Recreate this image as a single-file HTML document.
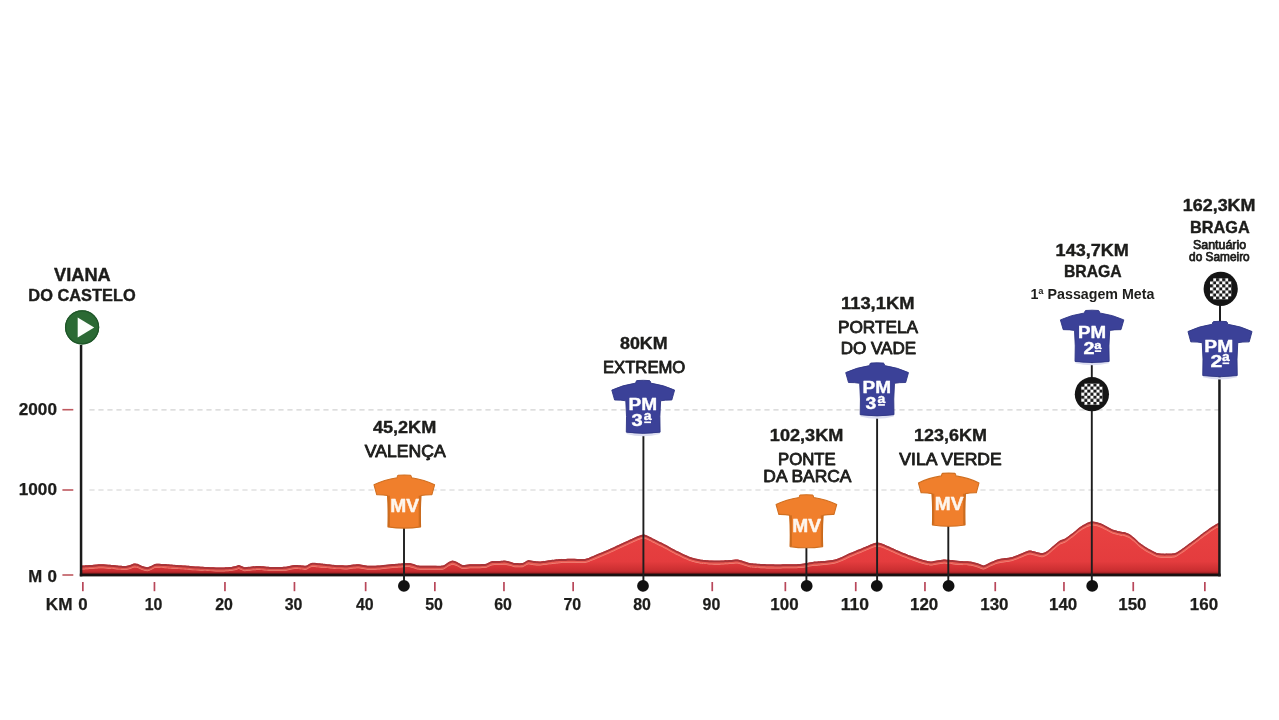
<!DOCTYPE html>
<html lang="pt"><head><meta charset="utf-8"><title>Perfil da etapa</title>
<style>html,body{margin:0;padding:0;background:#fff;}body{width:1279px;height:720px;overflow:hidden;font-family:"Liberation Sans",sans-serif;}svg{display:block;font-family:"Liberation Sans",sans-serif;will-change:transform;}</style>
</head><body>
<svg width="1279" height="720" viewBox="0 0 1279 720">
<defs>
<linearGradient id="gp" x1="0" y1="521" x2="0" y2="575" gradientUnits="userSpaceOnUse">
<stop offset="0" stop-color="#e94342"/><stop offset="0.75" stop-color="#e43c3e"/><stop offset="0.93" stop-color="#c82d30"/><stop offset="1" stop-color="#7a1517"/>
</linearGradient>
<pattern id="chk" x="0" y="0" width="6.12" height="6.12" patternUnits="userSpaceOnUse">
<rect x="0" y="0" width="6.12" height="6.12" fill="#fff"/>
<rect x="0" y="0" width="3.06" height="3.06" fill="#1a1a1a"/><rect x="3.06" y="3.06" width="3.06" height="3.06" fill="#1a1a1a"/>
</pattern>
<g id="jersey">
<path d="M-6.4,0.1 Q0,-0.5 6.4,0.1 Q7.3,0.3 7.5,2.6 Q21,4.6 31.4,9.6 L28.6,19.5 Q22,19.4 17.4,20.3 Q16.2,36 16.9,51.7 Q0,54.1 -16.9,51.7 Q-16.2,36 -17.4,20.3 Q-22,19.4 -28.6,19.5 L-31.4,9.6 Q-21,4.6 -7.5,2.6 Q-7.3,0.3 -6.4,0.1 Z"/>
</g>
</defs>
<rect width="1279" height="720" fill="#fff"/>
<line x1="89.4" y1="409.8" x2="1219" y2="409.8" stroke="#d2d2d2" stroke-width="1.2" stroke-dasharray="5.2 3.8"/>
<line x1="89.4" y1="490.0" x2="1219" y2="490.0" stroke="#d2d2d2" stroke-width="1.2" stroke-dasharray="5.2 3.8"/>
<path d="M82,575 L82.0,565.75 C82.9,565.68 88.0,565.26 90.0,565.10 C92.0,564.94 98.9,564.28 101.0,564.25 C103.1,564.22 108.3,564.67 110.0,564.80 C111.7,564.93 115.3,565.37 117.0,565.50 C118.7,565.63 124.6,566.05 126.0,566.00 C127.4,565.95 129.1,565.27 130.0,565.00 C130.9,564.73 133.1,563.61 134.0,563.50 C134.9,563.39 137.1,563.73 138.0,564.00 C138.9,564.27 141.0,565.65 142.0,566.00 C143.0,566.35 146.3,567.25 147.3,567.25 C148.3,567.25 150.1,566.36 151.0,566.00 C151.9,565.64 154.5,564.09 156.0,563.90 C157.5,563.71 162.9,564.07 165.0,564.20 C167.1,564.33 173.3,564.91 176.0,565.10 C178.7,565.29 187.3,565.82 190.0,566.00 C192.7,566.18 197.8,566.58 201.0,566.75 C204.2,566.92 216.7,567.56 219.8,567.60 C222.8,567.64 228.3,567.27 230.0,567.10 C231.7,566.93 235.0,566.21 236.0,566.00 C237.0,565.79 238.2,564.97 239.1,565.10 C240.0,565.23 242.7,567.15 244.8,567.25 C246.8,567.35 255.7,566.03 258.5,566.00 C261.3,565.97 268.1,566.92 271.0,567.00 C273.9,567.08 283.5,566.95 286.0,566.75 C288.5,566.55 292.6,565.21 294.8,565.10 C296.9,564.99 304.2,565.97 306.0,565.75 C307.8,565.53 309.7,563.20 311.6,563.00 C313.5,562.80 321.0,563.68 323.5,563.90 C326.0,564.12 332.4,564.93 334.8,565.10 C337.1,565.27 343.5,565.59 346.0,565.50 C348.5,565.41 355.5,564.22 357.9,564.25 C360.3,564.28 366.2,565.62 368.5,565.75 C370.8,565.88 376.8,565.70 379.8,565.50 C382.7,565.30 392.8,564.15 396.0,563.90 C399.2,563.65 407.7,563.03 410.0,563.20 C412.3,563.37 415.4,565.22 417.5,565.50 C419.6,565.78 427.3,565.78 430.0,565.80 C432.7,565.82 440.6,566.05 442.5,565.70 C444.4,565.35 446.9,563.03 448.0,562.50 C449.1,561.97 451.5,560.75 452.5,560.70 C453.5,560.65 455.9,561.54 457.0,562.00 C458.1,562.46 461.1,564.75 462.5,565.00 C463.9,565.25 467.6,564.41 470.0,564.30 C472.4,564.19 483.0,564.19 485.0,564.00 C487.0,563.81 488.2,562.80 489.0,562.50 C489.8,562.20 491.3,561.36 492.5,561.20 C493.7,561.04 498.7,561.05 500.0,561.00 C501.3,560.95 503.9,560.61 505.0,560.70 C506.1,560.79 508.9,561.53 510.0,561.80 C511.1,562.07 513.7,563.05 515.0,563.20 C516.3,563.35 521.3,563.40 522.5,563.20 C523.7,563.00 525.3,561.62 526.0,561.30 C526.7,560.98 527.8,560.21 528.7,560.20 C529.6,560.19 532.8,561.06 534.0,561.20 C535.2,561.34 538.3,561.60 540.0,561.50 C541.7,561.40 547.9,560.55 550.0,560.30 C552.1,560.05 557.7,559.36 560.0,559.20 C562.3,559.04 569.3,558.82 572.0,558.80 C574.7,558.78 582.9,559.25 585.0,559.00 C587.1,558.75 590.4,557.12 592.0,556.50 C593.6,555.88 597.9,554.11 600.0,553.20 C602.1,552.29 609.3,549.19 612.0,548.00 C614.7,546.81 622.5,543.12 625.0,542.00 C627.5,540.88 633.3,538.25 635.0,537.50 C636.7,536.75 640.0,535.32 641.0,535.00 C642.0,534.68 643.3,534.39 644.0,534.50 C644.7,534.61 646.8,535.47 648.0,536.00 C649.2,536.53 653.2,538.59 655.0,539.50 C656.8,540.41 662.7,543.27 665.0,544.50 C667.3,545.73 674.3,549.67 677.0,551.00 C679.7,552.33 687.5,556.09 690.0,557.00 C692.5,557.91 697.9,559.13 700.0,559.50 C702.1,559.87 707.9,560.37 710.0,560.50 C712.1,560.63 717.9,560.74 720.0,560.70 C722.1,560.66 728.1,560.23 730.0,560.10 C731.9,559.97 736.1,559.40 737.5,559.50 C738.9,559.60 741.7,560.61 743.0,561.00 C744.3,561.39 748.0,562.86 750.0,563.20 C752.0,563.54 759.3,564.06 762.0,564.20 C764.7,564.34 772.0,564.49 775.0,564.50 C778.0,564.51 787.3,564.35 790.0,564.30 C792.7,564.25 798.3,564.12 800.0,564.00 C801.7,563.88 804.7,563.41 806.0,563.20 C807.3,562.99 810.8,562.21 812.5,562.00 C814.2,561.79 819.6,561.47 822.0,561.20 C824.4,560.93 832.9,559.95 835.0,559.50 C837.1,559.05 840.4,557.67 842.0,557.00 C843.6,556.33 848.3,553.97 850.0,553.20 C851.7,552.43 856.4,550.46 858.0,549.80 C859.6,549.14 863.5,547.62 865.0,547.00 C866.5,546.38 870.7,544.48 872.0,544.00 C873.3,543.52 876.3,542.50 877.5,542.50 C878.7,542.50 881.7,543.52 883.0,544.00 C884.3,544.48 888.2,546.20 890.0,547.00 C891.8,547.80 897.9,550.59 900.0,551.50 C902.1,552.41 907.9,554.70 910.0,555.50 C912.1,556.30 917.9,558.36 920.0,559.00 C922.1,559.64 928.2,561.34 930.0,561.50 C931.8,561.66 935.5,560.71 937.0,560.50 C938.5,560.29 942.5,559.57 943.7,559.50 C944.9,559.43 947.1,559.73 948.0,559.80 C948.9,559.87 951.2,560.07 952.5,560.20 C953.8,560.33 958.1,560.86 960.0,561.00 C961.9,561.14 968.2,561.27 970.0,561.50 C971.8,561.73 975.5,562.77 977.0,563.20 C978.5,563.63 982.3,565.57 983.7,565.50 C985.1,565.43 988.5,563.14 990.0,562.50 C991.5,561.86 995.9,559.96 997.5,559.50 C999.1,559.04 1003.4,558.47 1005.0,558.20 C1006.6,557.93 1010.9,557.45 1012.5,557.00 C1014.1,556.55 1018.6,554.59 1020.0,554.00 C1021.4,553.41 1024.9,551.87 1026.0,551.50 C1027.1,551.13 1029.0,550.50 1030.0,550.50 C1031.0,550.50 1033.7,551.21 1035.0,551.50 C1036.3,551.79 1041.1,553.31 1042.5,553.20 C1043.9,553.09 1046.7,551.43 1048.0,550.50 C1049.3,549.57 1053.7,545.57 1055.0,544.50 C1056.3,543.43 1059.0,541.09 1060.0,540.50 C1061.0,539.91 1063.2,539.37 1064.0,539.00 C1064.8,538.63 1066.4,537.75 1067.5,537.00 C1068.6,536.25 1072.7,533.07 1074.0,532.00 C1075.3,530.93 1078.7,527.91 1080.0,527.00 C1081.3,526.09 1084.8,524.07 1086.0,523.50 C1087.2,522.93 1090.0,521.87 1091.0,521.70 C1092.0,521.53 1094.0,521.74 1095.0,521.90 C1096.0,522.06 1098.8,522.76 1100.0,523.20 C1101.2,523.64 1104.7,525.33 1106.0,526.00 C1107.3,526.67 1111.0,528.91 1112.5,529.50 C1114.0,530.09 1118.7,531.20 1120.0,531.50 C1121.3,531.80 1123.9,531.98 1125.0,532.30 C1126.1,532.62 1128.9,533.84 1130.0,534.50 C1131.1,535.16 1133.9,537.57 1135.0,538.50 C1136.1,539.43 1138.6,542.13 1140.0,543.20 C1141.4,544.27 1146.1,547.43 1148.0,548.50 C1149.9,549.57 1155.7,552.63 1157.5,553.20 C1159.3,553.77 1163.1,553.80 1165.0,553.80 C1166.9,553.80 1173.2,553.71 1175.0,553.20 C1176.8,552.69 1180.4,550.07 1182.0,549.00 C1183.6,547.93 1188.1,544.64 1190.0,543.20 C1191.9,541.76 1197.9,537.10 1200.0,535.50 C1202.1,533.90 1208.3,529.39 1210.0,528.20 C1211.7,527.01 1215.0,524.89 1216.0,524.30 C1217.0,523.71 1219.1,522.87 1219.5,522.70 L1219.5,575 Z" fill="url(#gp)"/>
<path d="M82.0,565.65 C82.9,565.58 88.0,565.16 90.0,565.00 C92.0,564.84 98.9,564.18 101.0,564.15 C103.1,564.12 108.3,564.57 110.0,564.70 C111.7,564.83 115.3,565.27 117.0,565.40 C118.7,565.53 124.6,565.95 126.0,565.90 C127.4,565.85 129.1,565.17 130.0,564.90 C130.9,564.63 133.1,563.51 134.0,563.40 C134.9,563.29 137.1,563.63 138.0,563.90 C138.9,564.17 141.0,565.55 142.0,565.90 C143.0,566.25 146.3,567.15 147.3,567.15 C148.3,567.15 150.1,566.26 151.0,565.90 C151.9,565.54 154.5,563.99 156.0,563.80 C157.5,563.61 162.9,563.97 165.0,564.10 C167.1,564.23 173.3,564.81 176.0,565.00 C178.7,565.19 187.3,565.72 190.0,565.90 C192.7,566.08 197.8,566.48 201.0,566.65 C204.2,566.82 216.7,567.46 219.8,567.50 C222.8,567.54 228.3,567.17 230.0,567.00 C231.7,566.83 235.0,566.11 236.0,565.90 C237.0,565.69 238.2,564.87 239.1,565.00 C240.0,565.13 242.7,567.05 244.8,567.15 C246.8,567.25 255.7,565.93 258.5,565.90 C261.3,565.87 268.1,566.82 271.0,566.90 C273.9,566.98 283.5,566.85 286.0,566.65 C288.5,566.45 292.6,565.11 294.8,565.00 C296.9,564.89 304.2,565.87 306.0,565.65 C307.8,565.43 309.7,563.10 311.6,562.90 C313.5,562.70 321.0,563.58 323.5,563.80 C326.0,564.02 332.4,564.83 334.8,565.00 C337.1,565.17 343.5,565.49 346.0,565.40 C348.5,565.31 355.5,564.12 357.9,564.15 C360.3,564.18 366.2,565.52 368.5,565.65 C370.8,565.78 376.8,565.60 379.8,565.40 C382.7,565.20 392.8,564.05 396.0,563.80 C399.2,563.55 407.7,562.93 410.0,563.10 C412.3,563.27 415.4,565.12 417.5,565.40 C419.6,565.68 427.3,565.68 430.0,565.70 C432.7,565.72 440.6,565.95 442.5,565.60 C444.4,565.25 446.9,562.93 448.0,562.40 C449.1,561.87 451.5,560.65 452.5,560.60 C453.5,560.55 455.9,561.44 457.0,561.90 C458.1,562.36 461.1,564.65 462.5,564.90 C463.9,565.15 467.6,564.31 470.0,564.20 C472.4,564.09 483.0,564.09 485.0,563.90 C487.0,563.71 488.2,562.70 489.0,562.40 C489.8,562.10 491.3,561.26 492.5,561.10 C493.7,560.94 498.7,560.95 500.0,560.90 C501.3,560.85 503.9,560.51 505.0,560.60 C506.1,560.69 508.9,561.43 510.0,561.70 C511.1,561.97 513.7,562.95 515.0,563.10 C516.3,563.25 521.3,563.30 522.5,563.10 C523.7,562.90 525.3,561.52 526.0,561.20 C526.7,560.88 527.8,560.11 528.7,560.10 C529.6,560.09 532.8,560.96 534.0,561.10 C535.2,561.24 538.3,561.50 540.0,561.40 C541.7,561.30 547.9,560.45 550.0,560.20 C552.1,559.95 557.7,559.26 560.0,559.10 C562.3,558.94 569.3,558.72 572.0,558.70 C574.7,558.68 582.9,559.15 585.0,558.90 C587.1,558.65 590.4,557.02 592.0,556.40 C593.6,555.78 597.9,554.01 600.0,553.10 C602.1,552.19 609.3,549.09 612.0,547.90 C614.7,546.71 622.5,543.02 625.0,541.90 C627.5,540.78 633.3,538.15 635.0,537.40 C636.7,536.65 640.0,535.22 641.0,534.90 C642.0,534.58 643.3,534.29 644.0,534.40 C644.7,534.51 646.8,535.37 648.0,535.90 C649.2,536.43 653.2,538.49 655.0,539.40 C656.8,540.31 662.7,543.17 665.0,544.40 C667.3,545.63 674.3,549.57 677.0,550.90 C679.7,552.23 687.5,555.99 690.0,556.90 C692.5,557.81 697.9,559.03 700.0,559.40 C702.1,559.77 707.9,560.27 710.0,560.40 C712.1,560.53 717.9,560.64 720.0,560.60 C722.1,560.56 728.1,560.13 730.0,560.00 C731.9,559.87 736.1,559.30 737.5,559.40 C738.9,559.50 741.7,560.51 743.0,560.90 C744.3,561.29 748.0,562.76 750.0,563.10 C752.0,563.44 759.3,563.96 762.0,564.10 C764.7,564.24 772.0,564.39 775.0,564.40 C778.0,564.41 787.3,564.25 790.0,564.20 C792.7,564.15 798.3,564.02 800.0,563.90 C801.7,563.78 804.7,563.31 806.0,563.10 C807.3,562.89 810.8,562.11 812.5,561.90 C814.2,561.69 819.6,561.37 822.0,561.10 C824.4,560.83 832.9,559.85 835.0,559.40 C837.1,558.95 840.4,557.57 842.0,556.90 C843.6,556.23 848.3,553.87 850.0,553.10 C851.7,552.33 856.4,550.36 858.0,549.70 C859.6,549.04 863.5,547.52 865.0,546.90 C866.5,546.28 870.7,544.38 872.0,543.90 C873.3,543.42 876.3,542.40 877.5,542.40 C878.7,542.40 881.7,543.42 883.0,543.90 C884.3,544.38 888.2,546.10 890.0,546.90 C891.8,547.70 897.9,550.49 900.0,551.40 C902.1,552.31 907.9,554.60 910.0,555.40 C912.1,556.20 917.9,558.26 920.0,558.90 C922.1,559.54 928.2,561.24 930.0,561.40 C931.8,561.56 935.5,560.61 937.0,560.40 C938.5,560.19 942.5,559.47 943.7,559.40 C944.9,559.33 947.1,559.63 948.0,559.70 C948.9,559.77 951.2,559.97 952.5,560.10 C953.8,560.23 958.1,560.76 960.0,560.90 C961.9,561.04 968.2,561.17 970.0,561.40 C971.8,561.63 975.5,562.67 977.0,563.10 C978.5,563.53 982.3,565.47 983.7,565.40 C985.1,565.33 988.5,563.04 990.0,562.40 C991.5,561.76 995.9,559.86 997.5,559.40 C999.1,558.94 1003.4,558.37 1005.0,558.10 C1006.6,557.83 1010.9,557.35 1012.5,556.90 C1014.1,556.45 1018.6,554.49 1020.0,553.90 C1021.4,553.31 1024.9,551.77 1026.0,551.40 C1027.1,551.03 1029.0,550.40 1030.0,550.40 C1031.0,550.40 1033.7,551.11 1035.0,551.40 C1036.3,551.69 1041.1,553.21 1042.5,553.10 C1043.9,552.99 1046.7,551.33 1048.0,550.40 C1049.3,549.47 1053.7,545.47 1055.0,544.40 C1056.3,543.33 1059.0,540.99 1060.0,540.40 C1061.0,539.81 1063.2,539.27 1064.0,538.90 C1064.8,538.53 1066.4,537.65 1067.5,536.90 C1068.6,536.15 1072.7,532.97 1074.0,531.90 C1075.3,530.83 1078.7,527.81 1080.0,526.90 C1081.3,525.99 1084.8,523.97 1086.0,523.40 C1087.2,522.83 1090.0,521.77 1091.0,521.60 C1092.0,521.43 1094.0,521.64 1095.0,521.80 C1096.0,521.96 1098.8,522.66 1100.0,523.10 C1101.2,523.54 1104.7,525.23 1106.0,525.90 C1107.3,526.57 1111.0,528.81 1112.5,529.40 C1114.0,529.99 1118.7,531.10 1120.0,531.40 C1121.3,531.70 1123.9,531.88 1125.0,532.20 C1126.1,532.52 1128.9,533.74 1130.0,534.40 C1131.1,535.06 1133.9,537.47 1135.0,538.40 C1136.1,539.33 1138.6,542.03 1140.0,543.10 C1141.4,544.17 1146.1,547.33 1148.0,548.40 C1149.9,549.47 1155.7,552.53 1157.5,553.10 C1159.3,553.67 1163.1,553.70 1165.0,553.70 C1166.9,553.70 1173.2,553.61 1175.0,553.10 C1176.8,552.59 1180.4,549.97 1182.0,548.90 C1183.6,547.83 1188.1,544.54 1190.0,543.10 C1191.9,541.66 1197.9,537.00 1200.0,535.40 C1202.1,533.80 1208.3,529.29 1210.0,528.10 C1211.7,526.91 1215.0,524.79 1216.0,524.20 C1217.0,523.61 1219.1,522.77 1219.5,522.60 L1219.5,524.60 C1219.1,524.77 1217.0,525.61 1216.0,526.20 C1215.0,526.79 1211.7,528.91 1210.0,530.10 C1208.3,531.29 1202.1,535.80 1200.0,537.40 C1197.9,539.00 1191.9,543.66 1190.0,545.10 C1188.1,546.54 1183.6,549.83 1182.0,550.90 C1180.4,551.97 1176.8,554.59 1175.0,555.10 C1173.2,555.61 1166.9,555.70 1165.0,555.70 C1163.1,555.70 1159.3,555.67 1157.5,555.10 C1155.7,554.53 1149.9,551.47 1148.0,550.40 C1146.1,549.33 1141.4,546.17 1140.0,545.10 C1138.6,544.03 1136.1,541.33 1135.0,540.40 C1133.9,539.47 1131.1,537.06 1130.0,536.40 C1128.9,535.74 1126.1,534.52 1125.0,534.20 C1123.9,533.88 1121.3,533.70 1120.0,533.40 C1118.7,533.10 1114.0,531.99 1112.5,531.40 C1111.0,530.81 1107.3,528.57 1106.0,527.90 C1104.7,527.23 1101.2,525.54 1100.0,525.10 C1098.8,524.66 1096.0,523.96 1095.0,523.80 C1094.0,523.64 1092.0,523.43 1091.0,523.60 C1090.0,523.77 1087.2,524.83 1086.0,525.40 C1084.8,525.97 1081.3,527.99 1080.0,528.90 C1078.7,529.81 1075.3,532.83 1074.0,533.90 C1072.7,534.97 1068.6,538.15 1067.5,538.90 C1066.4,539.65 1064.8,540.53 1064.0,540.90 C1063.2,541.27 1061.0,541.81 1060.0,542.40 C1059.0,542.99 1056.3,545.33 1055.0,546.40 C1053.7,547.47 1049.3,551.47 1048.0,552.40 C1046.7,553.33 1043.9,554.99 1042.5,555.10 C1041.1,555.21 1036.3,553.69 1035.0,553.40 C1033.7,553.11 1031.0,552.40 1030.0,552.40 C1029.0,552.40 1027.1,553.03 1026.0,553.40 C1024.9,553.77 1021.4,555.31 1020.0,555.90 C1018.6,556.49 1014.1,558.45 1012.5,558.90 C1010.9,559.35 1006.6,559.83 1005.0,560.10 C1003.4,560.37 999.1,560.94 997.5,561.40 C995.9,561.86 991.5,563.76 990.0,564.40 C988.5,565.04 985.1,567.33 983.7,567.40 C982.3,567.47 978.5,565.53 977.0,565.10 C975.5,564.67 971.8,563.63 970.0,563.40 C968.2,563.17 961.9,563.04 960.0,562.90 C958.1,562.76 953.8,562.23 952.5,562.10 C951.2,561.97 948.9,561.77 948.0,561.70 C947.1,561.63 944.9,561.33 943.7,561.40 C942.5,561.47 938.5,562.19 937.0,562.40 C935.5,562.61 931.8,563.56 930.0,563.40 C928.2,563.24 922.1,561.54 920.0,560.90 C917.9,560.26 912.1,558.20 910.0,557.40 C907.9,556.60 902.1,554.31 900.0,553.40 C897.9,552.49 891.8,549.70 890.0,548.90 C888.2,548.10 884.3,546.38 883.0,545.90 C881.7,545.42 878.7,544.40 877.5,544.40 C876.3,544.40 873.3,545.42 872.0,545.90 C870.7,546.38 866.5,548.28 865.0,548.90 C863.5,549.52 859.6,551.04 858.0,551.70 C856.4,552.36 851.7,554.33 850.0,555.10 C848.3,555.87 843.6,558.23 842.0,558.90 C840.4,559.57 837.1,560.95 835.0,561.40 C832.9,561.85 824.4,562.83 822.0,563.10 C819.6,563.37 814.2,563.69 812.5,563.90 C810.8,564.11 807.3,564.89 806.0,565.10 C804.7,565.31 801.7,565.78 800.0,565.90 C798.3,566.02 792.7,566.15 790.0,566.20 C787.3,566.25 778.0,566.41 775.0,566.40 C772.0,566.39 764.7,566.24 762.0,566.10 C759.3,565.96 752.0,565.44 750.0,565.10 C748.0,564.76 744.3,563.29 743.0,562.90 C741.7,562.51 738.9,561.50 737.5,561.40 C736.1,561.30 731.9,561.87 730.0,562.00 C728.1,562.13 722.1,562.56 720.0,562.60 C717.9,562.64 712.1,562.53 710.0,562.40 C707.9,562.27 702.1,561.77 700.0,561.40 C697.9,561.03 692.5,559.81 690.0,558.90 C687.5,557.99 679.7,554.23 677.0,552.90 C674.3,551.57 667.3,547.63 665.0,546.40 C662.7,545.17 656.8,542.31 655.0,541.40 C653.2,540.49 649.2,538.43 648.0,537.90 C646.8,537.37 644.7,536.51 644.0,536.40 C643.3,536.29 642.0,536.58 641.0,536.90 C640.0,537.22 636.7,538.65 635.0,539.40 C633.3,540.15 627.5,542.78 625.0,543.90 C622.5,545.02 614.7,548.71 612.0,549.90 C609.3,551.09 602.1,554.19 600.0,555.10 C597.9,556.01 593.6,557.78 592.0,558.40 C590.4,559.02 587.1,560.65 585.0,560.90 C582.9,561.15 574.7,560.68 572.0,560.70 C569.3,560.72 562.3,560.94 560.0,561.10 C557.7,561.26 552.1,561.95 550.0,562.20 C547.9,562.45 541.7,563.30 540.0,563.40 C538.3,563.50 535.2,563.24 534.0,563.10 C532.8,562.96 529.6,562.09 528.7,562.10 C527.8,562.11 526.7,562.88 526.0,563.20 C525.3,563.52 523.7,564.90 522.5,565.10 C521.3,565.30 516.3,565.25 515.0,565.10 C513.7,564.95 511.1,563.97 510.0,563.70 C508.9,563.43 506.1,562.69 505.0,562.60 C503.9,562.51 501.3,562.85 500.0,562.90 C498.7,562.95 493.7,562.94 492.5,563.10 C491.3,563.26 489.8,564.10 489.0,564.40 C488.2,564.70 487.0,565.71 485.0,565.90 C483.0,566.09 472.4,566.09 470.0,566.20 C467.6,566.31 463.9,567.15 462.5,566.90 C461.1,566.65 458.1,564.36 457.0,563.90 C455.9,563.44 453.5,562.55 452.5,562.60 C451.5,562.65 449.1,563.87 448.0,564.40 C446.9,564.93 444.4,567.25 442.5,567.60 C440.6,567.95 432.7,567.72 430.0,567.70 C427.3,567.68 419.6,567.68 417.5,567.40 C415.4,567.12 412.3,565.27 410.0,565.10 C407.7,564.93 399.2,565.55 396.0,565.80 C392.8,566.05 382.7,567.20 379.8,567.40 C376.8,567.60 370.8,567.78 368.5,567.65 C366.2,567.52 360.3,566.18 357.9,566.15 C355.5,566.12 348.5,567.31 346.0,567.40 C343.5,567.49 337.1,567.17 334.8,567.00 C332.4,566.83 326.0,566.02 323.5,565.80 C321.0,565.58 313.5,564.70 311.6,564.90 C309.7,565.10 307.8,567.43 306.0,567.65 C304.2,567.87 296.9,566.89 294.8,567.00 C292.6,567.11 288.5,568.45 286.0,568.65 C283.5,568.85 273.9,568.98 271.0,568.90 C268.1,568.82 261.3,567.87 258.5,567.90 C255.7,567.93 246.8,569.25 244.8,569.15 C242.7,569.05 240.0,567.13 239.1,567.00 C238.2,566.87 237.0,567.69 236.0,567.90 C235.0,568.11 231.7,568.83 230.0,569.00 C228.3,569.17 222.8,569.54 219.8,569.50 C216.7,569.46 204.2,568.82 201.0,568.65 C197.8,568.48 192.7,568.08 190.0,567.90 C187.3,567.72 178.7,567.19 176.0,567.00 C173.3,566.81 167.1,566.23 165.0,566.10 C162.9,565.97 157.5,565.61 156.0,565.80 C154.5,565.99 151.9,567.54 151.0,567.90 C150.1,568.26 148.3,569.15 147.3,569.15 C146.3,569.15 143.0,568.25 142.0,567.90 C141.0,567.55 138.9,566.17 138.0,565.90 C137.1,565.63 134.9,565.29 134.0,565.40 C133.1,565.51 130.9,566.63 130.0,566.90 C129.1,567.17 127.4,567.85 126.0,567.90 C124.6,567.95 118.7,567.53 117.0,567.40 C115.3,567.27 111.7,566.83 110.0,566.70 C108.3,566.57 103.1,566.12 101.0,566.15 C98.9,566.18 92.0,566.84 90.0,567.00 C88.0,567.16 82.9,567.58 82.0,567.65 Z" fill="#a83438" opacity="1.0"/>
<path d="M82.0,567.65 C82.9,567.58 88.0,567.16 90.0,567.00 C92.0,566.84 98.9,566.18 101.0,566.15 C103.1,566.12 108.3,566.57 110.0,566.70 C111.7,566.83 115.3,567.27 117.0,567.40 C118.7,567.53 124.6,567.95 126.0,567.90 C127.4,567.85 129.1,567.17 130.0,566.90 C130.9,566.63 133.1,565.51 134.0,565.40 C134.9,565.29 137.1,565.63 138.0,565.90 C138.9,566.17 141.0,567.55 142.0,567.90 C143.0,568.25 146.3,569.15 147.3,569.15 C148.3,569.15 150.1,568.26 151.0,567.90 C151.9,567.54 154.5,565.99 156.0,565.80 C157.5,565.61 162.9,565.97 165.0,566.10 C167.1,566.23 173.3,566.81 176.0,567.00 C178.7,567.19 187.3,567.72 190.0,567.90 C192.7,568.08 197.8,568.48 201.0,568.65 C204.2,568.82 216.7,569.46 219.8,569.50 C222.8,569.54 228.3,569.17 230.0,569.00 C231.7,568.83 235.0,568.11 236.0,567.90 C237.0,567.69 238.2,566.87 239.1,567.00 C240.0,567.13 242.7,569.05 244.8,569.15 C246.8,569.25 255.7,567.93 258.5,567.90 C261.3,567.87 268.1,568.82 271.0,568.90 C273.9,568.98 283.5,568.85 286.0,568.65 C288.5,568.45 292.6,567.11 294.8,567.00 C296.9,566.89 304.2,567.87 306.0,567.65 C307.8,567.43 309.7,565.10 311.6,564.90 C313.5,564.70 321.0,565.58 323.5,565.80 C326.0,566.02 332.4,566.83 334.8,567.00 C337.1,567.17 343.5,567.49 346.0,567.40 C348.5,567.31 355.5,566.12 357.9,566.15 C360.3,566.18 366.2,567.52 368.5,567.65 C370.8,567.78 376.8,567.60 379.8,567.40 C382.7,567.20 392.8,566.05 396.0,565.80 C399.2,565.55 407.7,564.93 410.0,565.10 C412.3,565.27 415.4,567.12 417.5,567.40 C419.6,567.68 427.3,567.68 430.0,567.70 C432.7,567.72 440.6,567.95 442.5,567.60 C444.4,567.25 446.9,564.93 448.0,564.40 C449.1,563.87 451.5,562.65 452.5,562.60 C453.5,562.55 455.9,563.44 457.0,563.90 C458.1,564.36 461.1,566.65 462.5,566.90 C463.9,567.15 467.6,566.31 470.0,566.20 C472.4,566.09 483.0,566.09 485.0,565.90 C487.0,565.71 488.2,564.70 489.0,564.40 C489.8,564.10 491.3,563.26 492.5,563.10 C493.7,562.94 498.7,562.95 500.0,562.90 C501.3,562.85 503.9,562.51 505.0,562.60 C506.1,562.69 508.9,563.43 510.0,563.70 C511.1,563.97 513.7,564.95 515.0,565.10 C516.3,565.25 521.3,565.30 522.5,565.10 C523.7,564.90 525.3,563.52 526.0,563.20 C526.7,562.88 527.8,562.11 528.7,562.10 C529.6,562.09 532.8,562.96 534.0,563.10 C535.2,563.24 538.3,563.50 540.0,563.40 C541.7,563.30 547.9,562.45 550.0,562.20 C552.1,561.95 557.7,561.26 560.0,561.10 C562.3,560.94 569.3,560.72 572.0,560.70 C574.7,560.68 582.9,561.15 585.0,560.90 C587.1,560.65 590.4,559.02 592.0,558.40 C593.6,557.78 597.9,556.01 600.0,555.10 C602.1,554.19 609.3,551.09 612.0,549.90 C614.7,548.71 622.5,545.02 625.0,543.90 C627.5,542.78 633.3,540.15 635.0,539.40 C636.7,538.65 640.0,537.22 641.0,536.90 C642.0,536.58 643.3,536.29 644.0,536.40 C644.7,536.51 646.8,537.37 648.0,537.90 C649.2,538.43 653.2,540.49 655.0,541.40 C656.8,542.31 662.7,545.17 665.0,546.40 C667.3,547.63 674.3,551.57 677.0,552.90 C679.7,554.23 687.5,557.99 690.0,558.90 C692.5,559.81 697.9,561.03 700.0,561.40 C702.1,561.77 707.9,562.27 710.0,562.40 C712.1,562.53 717.9,562.64 720.0,562.60 C722.1,562.56 728.1,562.13 730.0,562.00 C731.9,561.87 736.1,561.30 737.5,561.40 C738.9,561.50 741.7,562.51 743.0,562.90 C744.3,563.29 748.0,564.76 750.0,565.10 C752.0,565.44 759.3,565.96 762.0,566.10 C764.7,566.24 772.0,566.39 775.0,566.40 C778.0,566.41 787.3,566.25 790.0,566.20 C792.7,566.15 798.3,566.02 800.0,565.90 C801.7,565.78 804.7,565.31 806.0,565.10 C807.3,564.89 810.8,564.11 812.5,563.90 C814.2,563.69 819.6,563.37 822.0,563.10 C824.4,562.83 832.9,561.85 835.0,561.40 C837.1,560.95 840.4,559.57 842.0,558.90 C843.6,558.23 848.3,555.87 850.0,555.10 C851.7,554.33 856.4,552.36 858.0,551.70 C859.6,551.04 863.5,549.52 865.0,548.90 C866.5,548.28 870.7,546.38 872.0,545.90 C873.3,545.42 876.3,544.40 877.5,544.40 C878.7,544.40 881.7,545.42 883.0,545.90 C884.3,546.38 888.2,548.10 890.0,548.90 C891.8,549.70 897.9,552.49 900.0,553.40 C902.1,554.31 907.9,556.60 910.0,557.40 C912.1,558.20 917.9,560.26 920.0,560.90 C922.1,561.54 928.2,563.24 930.0,563.40 C931.8,563.56 935.5,562.61 937.0,562.40 C938.5,562.19 942.5,561.47 943.7,561.40 C944.9,561.33 947.1,561.63 948.0,561.70 C948.9,561.77 951.2,561.97 952.5,562.10 C953.8,562.23 958.1,562.76 960.0,562.90 C961.9,563.04 968.2,563.17 970.0,563.40 C971.8,563.63 975.5,564.67 977.0,565.10 C978.5,565.53 982.3,567.47 983.7,567.40 C985.1,567.33 988.5,565.04 990.0,564.40 C991.5,563.76 995.9,561.86 997.5,561.40 C999.1,560.94 1003.4,560.37 1005.0,560.10 C1006.6,559.83 1010.9,559.35 1012.5,558.90 C1014.1,558.45 1018.6,556.49 1020.0,555.90 C1021.4,555.31 1024.9,553.77 1026.0,553.40 C1027.1,553.03 1029.0,552.40 1030.0,552.40 C1031.0,552.40 1033.7,553.11 1035.0,553.40 C1036.3,553.69 1041.1,555.21 1042.5,555.10 C1043.9,554.99 1046.7,553.33 1048.0,552.40 C1049.3,551.47 1053.7,547.47 1055.0,546.40 C1056.3,545.33 1059.0,542.99 1060.0,542.40 C1061.0,541.81 1063.2,541.27 1064.0,540.90 C1064.8,540.53 1066.4,539.65 1067.5,538.90 C1068.6,538.15 1072.7,534.97 1074.0,533.90 C1075.3,532.83 1078.7,529.81 1080.0,528.90 C1081.3,527.99 1084.8,525.97 1086.0,525.40 C1087.2,524.83 1090.0,523.77 1091.0,523.60 C1092.0,523.43 1094.0,523.64 1095.0,523.80 C1096.0,523.96 1098.8,524.66 1100.0,525.10 C1101.2,525.54 1104.7,527.23 1106.0,527.90 C1107.3,528.57 1111.0,530.81 1112.5,531.40 C1114.0,531.99 1118.7,533.10 1120.0,533.40 C1121.3,533.70 1123.9,533.88 1125.0,534.20 C1126.1,534.52 1128.9,535.74 1130.0,536.40 C1131.1,537.06 1133.9,539.47 1135.0,540.40 C1136.1,541.33 1138.6,544.03 1140.0,545.10 C1141.4,546.17 1146.1,549.33 1148.0,550.40 C1149.9,551.47 1155.7,554.53 1157.5,555.10 C1159.3,555.67 1163.1,555.70 1165.0,555.70 C1166.9,555.70 1173.2,555.61 1175.0,555.10 C1176.8,554.59 1180.4,551.97 1182.0,550.90 C1183.6,549.83 1188.1,546.54 1190.0,545.10 C1191.9,543.66 1197.9,539.00 1200.0,537.40 C1202.1,535.80 1208.3,531.29 1210.0,530.10 C1211.7,528.91 1215.0,526.79 1216.0,526.20 C1217.0,525.61 1219.1,524.77 1219.5,524.60 L1219.5,525.90 C1219.1,526.07 1217.0,526.91 1216.0,527.50 C1215.0,528.09 1211.7,530.21 1210.0,531.40 C1208.3,532.59 1202.1,537.10 1200.0,538.70 C1197.9,540.30 1191.9,544.96 1190.0,546.40 C1188.1,547.84 1183.6,551.13 1182.0,552.20 C1180.4,553.27 1176.8,555.89 1175.0,556.40 C1173.2,556.91 1166.9,557.00 1165.0,557.00 C1163.1,557.00 1159.3,556.97 1157.5,556.40 C1155.7,555.83 1149.9,552.77 1148.0,551.70 C1146.1,550.63 1141.4,547.47 1140.0,546.40 C1138.6,545.33 1136.1,542.63 1135.0,541.70 C1133.9,540.77 1131.1,538.36 1130.0,537.70 C1128.9,537.04 1126.1,535.82 1125.0,535.50 C1123.9,535.18 1121.3,535.00 1120.0,534.70 C1118.7,534.40 1114.0,533.29 1112.5,532.70 C1111.0,532.11 1107.3,529.87 1106.0,529.20 C1104.7,528.53 1101.2,526.84 1100.0,526.40 C1098.8,525.96 1096.0,525.26 1095.0,525.10 C1094.0,524.94 1092.0,524.73 1091.0,524.90 C1090.0,525.07 1087.2,526.13 1086.0,526.70 C1084.8,527.27 1081.3,529.29 1080.0,530.20 C1078.7,531.11 1075.3,534.13 1074.0,535.20 C1072.7,536.27 1068.6,539.45 1067.5,540.20 C1066.4,540.95 1064.8,541.83 1064.0,542.20 C1063.2,542.57 1061.0,543.11 1060.0,543.70 C1059.0,544.29 1056.3,546.63 1055.0,547.70 C1053.7,548.77 1049.3,552.77 1048.0,553.70 C1046.7,554.63 1043.9,556.29 1042.5,556.40 C1041.1,556.51 1036.3,554.99 1035.0,554.70 C1033.7,554.41 1031.0,553.70 1030.0,553.70 C1029.0,553.70 1027.1,554.33 1026.0,554.70 C1024.9,555.07 1021.4,556.61 1020.0,557.20 C1018.6,557.79 1014.1,559.75 1012.5,560.20 C1010.9,560.65 1006.6,561.13 1005.0,561.40 C1003.4,561.67 999.1,562.24 997.5,562.70 C995.9,563.16 991.5,565.06 990.0,565.70 C988.5,566.34 985.1,568.63 983.7,568.70 C982.3,568.77 978.5,566.83 977.0,566.40 C975.5,565.97 971.8,564.93 970.0,564.70 C968.2,564.47 961.9,564.34 960.0,564.20 C958.1,564.06 953.8,563.53 952.5,563.40 C951.2,563.27 948.9,563.07 948.0,563.00 C947.1,562.93 944.9,562.63 943.7,562.70 C942.5,562.77 938.5,563.49 937.0,563.70 C935.5,563.91 931.8,564.86 930.0,564.70 C928.2,564.54 922.1,562.84 920.0,562.20 C917.9,561.56 912.1,559.50 910.0,558.70 C907.9,557.90 902.1,555.61 900.0,554.70 C897.9,553.79 891.8,551.00 890.0,550.20 C888.2,549.40 884.3,547.68 883.0,547.20 C881.7,546.72 878.7,545.70 877.5,545.70 C876.3,545.70 873.3,546.72 872.0,547.20 C870.7,547.68 866.5,549.58 865.0,550.20 C863.5,550.82 859.6,552.34 858.0,553.00 C856.4,553.66 851.7,555.63 850.0,556.40 C848.3,557.17 843.6,559.53 842.0,560.20 C840.4,560.87 837.1,562.25 835.0,562.70 C832.9,563.15 824.4,564.13 822.0,564.40 C819.6,564.67 814.2,564.99 812.5,565.20 C810.8,565.41 807.3,566.19 806.0,566.40 C804.7,566.61 801.7,567.08 800.0,567.20 C798.3,567.32 792.7,567.45 790.0,567.50 C787.3,567.55 778.0,567.71 775.0,567.70 C772.0,567.69 764.7,567.54 762.0,567.40 C759.3,567.26 752.0,566.74 750.0,566.40 C748.0,566.06 744.3,564.59 743.0,564.20 C741.7,563.81 738.9,562.80 737.5,562.70 C736.1,562.60 731.9,563.17 730.0,563.30 C728.1,563.43 722.1,563.86 720.0,563.90 C717.9,563.94 712.1,563.83 710.0,563.70 C707.9,563.57 702.1,563.07 700.0,562.70 C697.9,562.33 692.5,561.11 690.0,560.20 C687.5,559.29 679.7,555.53 677.0,554.20 C674.3,552.87 667.3,548.93 665.0,547.70 C662.7,546.47 656.8,543.61 655.0,542.70 C653.2,541.79 649.2,539.73 648.0,539.20 C646.8,538.67 644.7,537.81 644.0,537.70 C643.3,537.59 642.0,537.88 641.0,538.20 C640.0,538.52 636.7,539.95 635.0,540.70 C633.3,541.45 627.5,544.08 625.0,545.20 C622.5,546.32 614.7,550.01 612.0,551.20 C609.3,552.39 602.1,555.49 600.0,556.40 C597.9,557.31 593.6,559.08 592.0,559.70 C590.4,560.32 587.1,561.95 585.0,562.20 C582.9,562.45 574.7,561.98 572.0,562.00 C569.3,562.02 562.3,562.24 560.0,562.40 C557.7,562.56 552.1,563.25 550.0,563.50 C547.9,563.75 541.7,564.60 540.0,564.70 C538.3,564.80 535.2,564.54 534.0,564.40 C532.8,564.26 529.6,563.39 528.7,563.40 C527.8,563.41 526.7,564.18 526.0,564.50 C525.3,564.82 523.7,566.20 522.5,566.40 C521.3,566.60 516.3,566.55 515.0,566.40 C513.7,566.25 511.1,565.27 510.0,565.00 C508.9,564.73 506.1,563.99 505.0,563.90 C503.9,563.81 501.3,564.15 500.0,564.20 C498.7,564.25 493.7,564.24 492.5,564.40 C491.3,564.56 489.8,565.40 489.0,565.70 C488.2,566.00 487.0,567.01 485.0,567.20 C483.0,567.39 472.4,567.39 470.0,567.50 C467.6,567.61 463.9,568.45 462.5,568.20 C461.1,567.95 458.1,565.66 457.0,565.20 C455.9,564.74 453.5,563.85 452.5,563.90 C451.5,563.95 449.1,565.17 448.0,565.70 C446.9,566.23 444.4,568.55 442.5,568.90 C440.6,569.25 432.7,569.02 430.0,569.00 C427.3,568.98 419.6,568.98 417.5,568.70 C415.4,568.42 412.3,566.57 410.0,566.40 C407.7,566.23 399.2,566.85 396.0,567.10 C392.8,567.35 382.7,568.50 379.8,568.70 C376.8,568.90 370.8,569.08 368.5,568.95 C366.2,568.82 360.3,567.48 357.9,567.45 C355.5,567.42 348.5,568.61 346.0,568.70 C343.5,568.79 337.1,568.47 334.8,568.30 C332.4,568.13 326.0,567.32 323.5,567.10 C321.0,566.88 313.5,566.00 311.6,566.20 C309.7,566.40 307.8,568.73 306.0,568.95 C304.2,569.17 296.9,568.19 294.8,568.30 C292.6,568.41 288.5,569.75 286.0,569.95 C283.5,570.15 273.9,570.28 271.0,570.20 C268.1,570.12 261.3,569.17 258.5,569.20 C255.7,569.23 246.8,570.55 244.8,570.45 C242.7,570.35 240.0,568.43 239.1,568.30 C238.2,568.17 237.0,568.99 236.0,569.20 C235.0,569.41 231.7,570.13 230.0,570.30 C228.3,570.47 222.8,570.84 219.8,570.80 C216.7,570.76 204.2,570.12 201.0,569.95 C197.8,569.78 192.7,569.38 190.0,569.20 C187.3,569.02 178.7,568.49 176.0,568.30 C173.3,568.11 167.1,567.53 165.0,567.40 C162.9,567.27 157.5,566.91 156.0,567.10 C154.5,567.29 151.9,568.84 151.0,569.20 C150.1,569.56 148.3,570.45 147.3,570.45 C146.3,570.45 143.0,569.55 142.0,569.20 C141.0,568.85 138.9,567.47 138.0,567.20 C137.1,566.93 134.9,566.59 134.0,566.70 C133.1,566.81 130.9,567.93 130.0,568.20 C129.1,568.47 127.4,569.15 126.0,569.20 C124.6,569.25 118.7,568.83 117.0,568.70 C115.3,568.57 111.7,568.13 110.0,568.00 C108.3,567.87 103.1,567.42 101.0,567.45 C98.9,567.48 92.0,568.14 90.0,568.30 C88.0,568.46 82.9,568.88 82.0,568.95 Z" fill="#f2806e" opacity="0.5"/>
<path d="M82.0,568.95 C82.9,568.88 88.0,568.46 90.0,568.30 C92.0,568.14 98.9,567.48 101.0,567.45 C103.1,567.42 108.3,567.87 110.0,568.00 C111.7,568.13 115.3,568.57 117.0,568.70 C118.7,568.83 124.6,569.25 126.0,569.20 C127.4,569.15 129.1,568.47 130.0,568.20 C130.9,567.93 133.1,566.81 134.0,566.70 C134.9,566.59 137.1,566.93 138.0,567.20 C138.9,567.47 141.0,568.85 142.0,569.20 C143.0,569.55 146.3,570.45 147.3,570.45 C148.3,570.45 150.1,569.56 151.0,569.20 C151.9,568.84 154.5,567.29 156.0,567.10 C157.5,566.91 162.9,567.27 165.0,567.40 C167.1,567.53 173.3,568.11 176.0,568.30 C178.7,568.49 187.3,569.02 190.0,569.20 C192.7,569.38 197.8,569.78 201.0,569.95 C204.2,570.12 216.7,570.76 219.8,570.80 C222.8,570.84 228.3,570.47 230.0,570.30 C231.7,570.13 235.0,569.41 236.0,569.20 C237.0,568.99 238.2,568.17 239.1,568.30 C240.0,568.43 242.7,570.35 244.8,570.45 C246.8,570.55 255.7,569.23 258.5,569.20 C261.3,569.17 268.1,570.12 271.0,570.20 C273.9,570.28 283.5,570.15 286.0,569.95 C288.5,569.75 292.6,568.41 294.8,568.30 C296.9,568.19 304.2,569.17 306.0,568.95 C307.8,568.73 309.7,566.40 311.6,566.20 C313.5,566.00 321.0,566.88 323.5,567.10 C326.0,567.32 332.4,568.13 334.8,568.30 C337.1,568.47 343.5,568.79 346.0,568.70 C348.5,568.61 355.5,567.42 357.9,567.45 C360.3,567.48 366.2,568.82 368.5,568.95 C370.8,569.08 376.8,568.90 379.8,568.70 C382.7,568.50 392.8,567.35 396.0,567.10 C399.2,566.85 407.7,566.23 410.0,566.40 C412.3,566.57 415.4,568.42 417.5,568.70 C419.6,568.98 427.3,568.98 430.0,569.00 C432.7,569.02 440.6,569.25 442.5,568.90 C444.4,568.55 446.9,566.23 448.0,565.70 C449.1,565.17 451.5,563.95 452.5,563.90 C453.5,563.85 455.9,564.74 457.0,565.20 C458.1,565.66 461.1,567.95 462.5,568.20 C463.9,568.45 467.6,567.61 470.0,567.50 C472.4,567.39 483.0,567.39 485.0,567.20 C487.0,567.01 488.2,566.00 489.0,565.70 C489.8,565.40 491.3,564.56 492.5,564.40 C493.7,564.24 498.7,564.25 500.0,564.20 C501.3,564.15 503.9,563.81 505.0,563.90 C506.1,563.99 508.9,564.73 510.0,565.00 C511.1,565.27 513.7,566.25 515.0,566.40 C516.3,566.55 521.3,566.60 522.5,566.40 C523.7,566.20 525.3,564.82 526.0,564.50 C526.7,564.18 527.8,563.41 528.7,563.40 C529.6,563.39 532.8,564.26 534.0,564.40 C535.2,564.54 538.3,564.80 540.0,564.70 C541.7,564.60 547.9,563.75 550.0,563.50 C552.1,563.25 557.7,562.56 560.0,562.40 C562.3,562.24 569.3,562.02 572.0,562.00 C574.7,561.98 582.9,562.45 585.0,562.20 C587.1,561.95 590.4,560.32 592.0,559.70 C593.6,559.08 597.9,557.31 600.0,556.40 C602.1,555.49 609.3,552.39 612.0,551.20 C614.7,550.01 622.5,546.32 625.0,545.20 C627.5,544.08 633.3,541.45 635.0,540.70 C636.7,539.95 640.0,538.52 641.0,538.20 C642.0,537.88 643.3,537.59 644.0,537.70 C644.7,537.81 646.8,538.67 648.0,539.20 C649.2,539.73 653.2,541.79 655.0,542.70 C656.8,543.61 662.7,546.47 665.0,547.70 C667.3,548.93 674.3,552.87 677.0,554.20 C679.7,555.53 687.5,559.29 690.0,560.20 C692.5,561.11 697.9,562.33 700.0,562.70 C702.1,563.07 707.9,563.57 710.0,563.70 C712.1,563.83 717.9,563.94 720.0,563.90 C722.1,563.86 728.1,563.43 730.0,563.30 C731.9,563.17 736.1,562.60 737.5,562.70 C738.9,562.80 741.7,563.81 743.0,564.20 C744.3,564.59 748.0,566.06 750.0,566.40 C752.0,566.74 759.3,567.26 762.0,567.40 C764.7,567.54 772.0,567.69 775.0,567.70 C778.0,567.71 787.3,567.55 790.0,567.50 C792.7,567.45 798.3,567.32 800.0,567.20 C801.7,567.08 804.7,566.61 806.0,566.40 C807.3,566.19 810.8,565.41 812.5,565.20 C814.2,564.99 819.6,564.67 822.0,564.40 C824.4,564.13 832.9,563.15 835.0,562.70 C837.1,562.25 840.4,560.87 842.0,560.20 C843.6,559.53 848.3,557.17 850.0,556.40 C851.7,555.63 856.4,553.66 858.0,553.00 C859.6,552.34 863.5,550.82 865.0,550.20 C866.5,549.58 870.7,547.68 872.0,547.20 C873.3,546.72 876.3,545.70 877.5,545.70 C878.7,545.70 881.7,546.72 883.0,547.20 C884.3,547.68 888.2,549.40 890.0,550.20 C891.8,551.00 897.9,553.79 900.0,554.70 C902.1,555.61 907.9,557.90 910.0,558.70 C912.1,559.50 917.9,561.56 920.0,562.20 C922.1,562.84 928.2,564.54 930.0,564.70 C931.8,564.86 935.5,563.91 937.0,563.70 C938.5,563.49 942.5,562.77 943.7,562.70 C944.9,562.63 947.1,562.93 948.0,563.00 C948.9,563.07 951.2,563.27 952.5,563.40 C953.8,563.53 958.1,564.06 960.0,564.20 C961.9,564.34 968.2,564.47 970.0,564.70 C971.8,564.93 975.5,565.97 977.0,566.40 C978.5,566.83 982.3,568.77 983.7,568.70 C985.1,568.63 988.5,566.34 990.0,565.70 C991.5,565.06 995.9,563.16 997.5,562.70 C999.1,562.24 1003.4,561.67 1005.0,561.40 C1006.6,561.13 1010.9,560.65 1012.5,560.20 C1014.1,559.75 1018.6,557.79 1020.0,557.20 C1021.4,556.61 1024.9,555.07 1026.0,554.70 C1027.1,554.33 1029.0,553.70 1030.0,553.70 C1031.0,553.70 1033.7,554.41 1035.0,554.70 C1036.3,554.99 1041.1,556.51 1042.5,556.40 C1043.9,556.29 1046.7,554.63 1048.0,553.70 C1049.3,552.77 1053.7,548.77 1055.0,547.70 C1056.3,546.63 1059.0,544.29 1060.0,543.70 C1061.0,543.11 1063.2,542.57 1064.0,542.20 C1064.8,541.83 1066.4,540.95 1067.5,540.20 C1068.6,539.45 1072.7,536.27 1074.0,535.20 C1075.3,534.13 1078.7,531.11 1080.0,530.20 C1081.3,529.29 1084.8,527.27 1086.0,526.70 C1087.2,526.13 1090.0,525.07 1091.0,524.90 C1092.0,524.73 1094.0,524.94 1095.0,525.10 C1096.0,525.26 1098.8,525.96 1100.0,526.40 C1101.2,526.84 1104.7,528.53 1106.0,529.20 C1107.3,529.87 1111.0,532.11 1112.5,532.70 C1114.0,533.29 1118.7,534.40 1120.0,534.70 C1121.3,535.00 1123.9,535.18 1125.0,535.50 C1126.1,535.82 1128.9,537.04 1130.0,537.70 C1131.1,538.36 1133.9,540.77 1135.0,541.70 C1136.1,542.63 1138.6,545.33 1140.0,546.40 C1141.4,547.47 1146.1,550.63 1148.0,551.70 C1149.9,552.77 1155.7,555.83 1157.5,556.40 C1159.3,556.97 1163.1,557.00 1165.0,557.00 C1166.9,557.00 1173.2,556.91 1175.0,556.40 C1176.8,555.89 1180.4,553.27 1182.0,552.20 C1183.6,551.13 1188.1,547.84 1190.0,546.40 C1191.9,544.96 1197.9,540.30 1200.0,538.70 C1202.1,537.10 1208.3,532.59 1210.0,531.40 C1211.7,530.21 1215.0,528.09 1216.0,527.50 C1217.0,526.91 1219.1,526.07 1219.5,525.90 L1219.5,526.65 C1219.1,526.82 1217.0,527.66 1216.0,528.25 C1215.0,528.84 1211.7,530.96 1210.0,532.15 C1208.3,533.34 1202.1,537.85 1200.0,539.45 C1197.9,541.05 1191.9,545.71 1190.0,547.15 C1188.1,548.59 1183.6,551.88 1182.0,552.95 C1180.4,554.02 1176.8,556.64 1175.0,557.15 C1173.2,557.66 1166.9,557.75 1165.0,557.75 C1163.1,557.75 1159.3,557.72 1157.5,557.15 C1155.7,556.58 1149.9,553.52 1148.0,552.45 C1146.1,551.38 1141.4,548.22 1140.0,547.15 C1138.6,546.08 1136.1,543.38 1135.0,542.45 C1133.9,541.52 1131.1,539.11 1130.0,538.45 C1128.9,537.79 1126.1,536.57 1125.0,536.25 C1123.9,535.93 1121.3,535.75 1120.0,535.45 C1118.7,535.15 1114.0,534.04 1112.5,533.45 C1111.0,532.86 1107.3,530.62 1106.0,529.95 C1104.7,529.28 1101.2,527.59 1100.0,527.15 C1098.8,526.71 1096.0,526.01 1095.0,525.85 C1094.0,525.69 1092.0,525.48 1091.0,525.65 C1090.0,525.82 1087.2,526.88 1086.0,527.45 C1084.8,528.02 1081.3,530.04 1080.0,530.95 C1078.7,531.86 1075.3,534.88 1074.0,535.95 C1072.7,537.02 1068.6,540.20 1067.5,540.95 C1066.4,541.70 1064.8,542.58 1064.0,542.95 C1063.2,543.32 1061.0,543.86 1060.0,544.45 C1059.0,545.04 1056.3,547.38 1055.0,548.45 C1053.7,549.52 1049.3,553.52 1048.0,554.45 C1046.7,555.38 1043.9,557.04 1042.5,557.15 C1041.1,557.26 1036.3,555.74 1035.0,555.45 C1033.7,555.16 1031.0,554.45 1030.0,554.45 C1029.0,554.45 1027.1,555.08 1026.0,555.45 C1024.9,555.82 1021.4,557.36 1020.0,557.95 C1018.6,558.54 1014.1,560.50 1012.5,560.95 C1010.9,561.40 1006.6,561.88 1005.0,562.15 C1003.4,562.42 999.1,562.99 997.5,563.45 C995.9,563.91 991.5,565.81 990.0,566.45 C988.5,567.09 985.1,569.38 983.7,569.45 C982.3,569.52 978.5,567.58 977.0,567.15 C975.5,566.72 971.8,565.68 970.0,565.45 C968.2,565.22 961.9,565.09 960.0,564.95 C958.1,564.81 953.8,564.28 952.5,564.15 C951.2,564.02 948.9,563.82 948.0,563.75 C947.1,563.68 944.9,563.38 943.7,563.45 C942.5,563.52 938.5,564.24 937.0,564.45 C935.5,564.66 931.8,565.61 930.0,565.45 C928.2,565.29 922.1,563.59 920.0,562.95 C917.9,562.31 912.1,560.25 910.0,559.45 C907.9,558.65 902.1,556.36 900.0,555.45 C897.9,554.54 891.8,551.75 890.0,550.95 C888.2,550.15 884.3,548.43 883.0,547.95 C881.7,547.47 878.7,546.45 877.5,546.45 C876.3,546.45 873.3,547.47 872.0,547.95 C870.7,548.43 866.5,550.33 865.0,550.95 C863.5,551.57 859.6,553.09 858.0,553.75 C856.4,554.41 851.7,556.38 850.0,557.15 C848.3,557.92 843.6,560.28 842.0,560.95 C840.4,561.62 837.1,563.00 835.0,563.45 C832.9,563.90 824.4,564.88 822.0,565.15 C819.6,565.42 814.2,565.74 812.5,565.95 C810.8,566.16 807.3,566.94 806.0,567.15 C804.7,567.36 801.7,567.83 800.0,567.95 C798.3,568.07 792.7,568.20 790.0,568.25 C787.3,568.30 778.0,568.46 775.0,568.45 C772.0,568.44 764.7,568.29 762.0,568.15 C759.3,568.01 752.0,567.49 750.0,567.15 C748.0,566.81 744.3,565.34 743.0,564.95 C741.7,564.56 738.9,563.55 737.5,563.45 C736.1,563.35 731.9,563.92 730.0,564.05 C728.1,564.18 722.1,564.61 720.0,564.65 C717.9,564.69 712.1,564.58 710.0,564.45 C707.9,564.32 702.1,563.82 700.0,563.45 C697.9,563.08 692.5,561.86 690.0,560.95 C687.5,560.04 679.7,556.28 677.0,554.95 C674.3,553.62 667.3,549.68 665.0,548.45 C662.7,547.22 656.8,544.36 655.0,543.45 C653.2,542.54 649.2,540.48 648.0,539.95 C646.8,539.42 644.7,538.56 644.0,538.45 C643.3,538.34 642.0,538.63 641.0,538.95 C640.0,539.27 636.7,540.70 635.0,541.45 C633.3,542.20 627.5,544.83 625.0,545.95 C622.5,547.07 614.7,550.76 612.0,551.95 C609.3,553.14 602.1,556.24 600.0,557.15 C597.9,558.06 593.6,559.83 592.0,560.45 C590.4,561.07 587.1,562.70 585.0,562.95 C582.9,563.20 574.7,562.73 572.0,562.75 C569.3,562.77 562.3,562.99 560.0,563.15 C557.7,563.31 552.1,564.00 550.0,564.25 C547.9,564.50 541.7,565.35 540.0,565.45 C538.3,565.55 535.2,565.29 534.0,565.15 C532.8,565.01 529.6,564.14 528.7,564.15 C527.8,564.16 526.7,564.93 526.0,565.25 C525.3,565.57 523.7,566.95 522.5,567.15 C521.3,567.35 516.3,567.30 515.0,567.15 C513.7,567.00 511.1,566.02 510.0,565.75 C508.9,565.48 506.1,564.74 505.0,564.65 C503.9,564.56 501.3,564.90 500.0,564.95 C498.7,565.00 493.7,564.99 492.5,565.15 C491.3,565.31 489.8,566.15 489.0,566.45 C488.2,566.75 487.0,567.76 485.0,567.95 C483.0,568.14 472.4,568.14 470.0,568.25 C467.6,568.36 463.9,569.20 462.5,568.95 C461.1,568.70 458.1,566.41 457.0,565.95 C455.9,565.49 453.5,564.60 452.5,564.65 C451.5,564.70 449.1,565.92 448.0,566.45 C446.9,566.98 444.4,569.30 442.5,569.65 C440.6,570.00 432.7,569.77 430.0,569.75 C427.3,569.73 419.6,569.73 417.5,569.45 C415.4,569.17 412.3,567.32 410.0,567.15 C407.7,566.98 399.2,567.60 396.0,567.85 C392.8,568.10 382.7,569.25 379.8,569.45 C376.8,569.65 370.8,569.83 368.5,569.70 C366.2,569.57 360.3,568.23 357.9,568.20 C355.5,568.17 348.5,569.36 346.0,569.45 C343.5,569.54 337.1,569.22 334.8,569.05 C332.4,568.88 326.0,568.07 323.5,567.85 C321.0,567.63 313.5,566.75 311.6,566.95 C309.7,567.15 307.8,569.48 306.0,569.70 C304.2,569.92 296.9,568.94 294.8,569.05 C292.6,569.16 288.5,570.50 286.0,570.70 C283.5,570.90 273.9,571.03 271.0,570.95 C268.1,570.87 261.3,569.92 258.5,569.95 C255.7,569.98 246.8,571.30 244.8,571.20 C242.7,571.10 240.0,569.18 239.1,569.05 C238.2,568.92 237.0,569.74 236.0,569.95 C235.0,570.16 231.7,570.88 230.0,571.05 C228.3,571.22 222.8,571.59 219.8,571.55 C216.7,571.51 204.2,570.87 201.0,570.70 C197.8,570.53 192.7,570.13 190.0,569.95 C187.3,569.77 178.7,569.24 176.0,569.05 C173.3,568.86 167.1,568.28 165.0,568.15 C162.9,568.02 157.5,567.66 156.0,567.85 C154.5,568.04 151.9,569.59 151.0,569.95 C150.1,570.31 148.3,571.20 147.3,571.20 C146.3,571.20 143.0,570.30 142.0,569.95 C141.0,569.60 138.9,568.22 138.0,567.95 C137.1,567.68 134.9,567.34 134.0,567.45 C133.1,567.56 130.9,568.68 130.0,568.95 C129.1,569.22 127.4,569.90 126.0,569.95 C124.6,570.00 118.7,569.58 117.0,569.45 C115.3,569.32 111.7,568.88 110.0,568.75 C108.3,568.62 103.1,568.17 101.0,568.20 C98.9,568.23 92.0,568.89 90.0,569.05 C88.0,569.21 82.9,569.63 82.0,569.70 Z" fill="#f6a08e" opacity="0.8"/>
<rect x="79.8" y="345" width="2.5" height="231.3" fill="#1a1a1a"/>
<rect x="79.8" y="573.6" width="1140.9" height="2.8" fill="#1a1111"/>
<rect x="1218.2" y="376" width="2.5" height="200.4" fill="#1a1a1a"/>
<rect x="62.4" y="408.9" width="10.9" height="1.6" fill="#bf595f"/>
<rect x="62.4" y="489.2" width="10.9" height="1.6" fill="#bf595f"/>
<rect x="62.4" y="574.2" width="10.9" height="1.6" fill="#bf595f"/>
<rect x="82.00" y="582.0" width="1.7" height="9.2" fill="#b8475a"/>
<rect x="153.60" y="582.0" width="1.7" height="9.2" fill="#b8475a"/>
<rect x="224.10" y="582.0" width="1.7" height="9.2" fill="#b8475a"/>
<rect x="293.60" y="582.0" width="1.7" height="9.2" fill="#b8475a"/>
<rect x="364.80" y="582.0" width="1.7" height="9.2" fill="#b8475a"/>
<rect x="434.00" y="582.0" width="1.7" height="9.2" fill="#b8475a"/>
<rect x="503.10" y="582.0" width="1.7" height="9.2" fill="#b8475a"/>
<rect x="572.30" y="582.0" width="1.7" height="9.2" fill="#b8475a"/>
<rect x="642.00" y="582.0" width="1.7" height="9.2" fill="#b8475a"/>
<rect x="711.40" y="582.0" width="1.7" height="9.2" fill="#b8475a"/>
<rect x="784.50" y="582.0" width="1.7" height="9.2" fill="#b8475a"/>
<rect x="854.90" y="582.0" width="1.7" height="9.2" fill="#b8475a"/>
<rect x="924.10" y="582.0" width="1.7" height="9.2" fill="#b8475a"/>
<rect x="994.40" y="582.0" width="1.7" height="9.2" fill="#b8475a"/>
<rect x="1063.10" y="582.0" width="1.7" height="9.2" fill="#b8475a"/>
<rect x="1132.40" y="582.0" width="1.7" height="9.2" fill="#b8475a"/>
<rect x="1204.00" y="582.0" width="1.7" height="9.2" fill="#b8475a"/>
<text x="18.76" y="414.70" textLength="38.18" lengthAdjust="spacingAndGlyphs" font-size="16.0" font-weight="bold" fill="#1d1d1b" stroke="#1d1d1b" stroke-width="0.25" stroke-linejoin="round">2000</text>
<text x="18.76" y="494.90" textLength="38.18" lengthAdjust="spacingAndGlyphs" font-size="16.0" font-weight="bold" fill="#1d1d1b" stroke="#1d1d1b" stroke-width="0.25" stroke-linejoin="round">1000</text>
<text x="28.18" y="581.80" textLength="13.95" lengthAdjust="spacingAndGlyphs" font-size="15.6" font-weight="bold" fill="#1d1d1b" stroke="#1d1d1b" stroke-width="0.25" stroke-linejoin="round">M</text>
<text x="47.48" y="581.80" textLength="9.45" lengthAdjust="spacingAndGlyphs" font-size="15.6" font-weight="bold" fill="#1d1d1b" stroke="#1d1d1b" stroke-width="0.25" stroke-linejoin="round">0</text>
<text x="45.86" y="610.30" textLength="26.68" lengthAdjust="spacingAndGlyphs" font-size="16.0" font-weight="bold" fill="#1d1d1b" stroke="#1d1d1b" stroke-width="0.25" stroke-linejoin="round">KM</text>
<text x="78.16" y="610.30" textLength="9.38" lengthAdjust="spacingAndGlyphs" font-size="16.0" font-weight="bold" fill="#1d1d1b" stroke="#1d1d1b" stroke-width="0.25" stroke-linejoin="round">0</text>
<text x="144.76" y="610.30" textLength="17.68" lengthAdjust="spacingAndGlyphs" font-size="16.0" font-weight="bold" fill="#1d1d1b" stroke="#1d1d1b" stroke-width="0.25" stroke-linejoin="round">10</text>
<text x="215.26" y="610.30" textLength="17.68" lengthAdjust="spacingAndGlyphs" font-size="16.0" font-weight="bold" fill="#1d1d1b" stroke="#1d1d1b" stroke-width="0.25" stroke-linejoin="round">20</text>
<text x="284.76" y="610.30" textLength="17.68" lengthAdjust="spacingAndGlyphs" font-size="16.0" font-weight="bold" fill="#1d1d1b" stroke="#1d1d1b" stroke-width="0.25" stroke-linejoin="round">30</text>
<text x="355.96" y="610.30" textLength="17.68" lengthAdjust="spacingAndGlyphs" font-size="16.0" font-weight="bold" fill="#1d1d1b" stroke="#1d1d1b" stroke-width="0.25" stroke-linejoin="round">40</text>
<text x="425.16" y="610.30" textLength="17.68" lengthAdjust="spacingAndGlyphs" font-size="16.0" font-weight="bold" fill="#1d1d1b" stroke="#1d1d1b" stroke-width="0.25" stroke-linejoin="round">50</text>
<text x="494.26" y="610.30" textLength="17.68" lengthAdjust="spacingAndGlyphs" font-size="16.0" font-weight="bold" fill="#1d1d1b" stroke="#1d1d1b" stroke-width="0.25" stroke-linejoin="round">60</text>
<text x="563.46" y="610.30" textLength="17.68" lengthAdjust="spacingAndGlyphs" font-size="16.0" font-weight="bold" fill="#1d1d1b" stroke="#1d1d1b" stroke-width="0.25" stroke-linejoin="round">70</text>
<text x="633.16" y="610.30" textLength="17.68" lengthAdjust="spacingAndGlyphs" font-size="16.0" font-weight="bold" fill="#1d1d1b" stroke="#1d1d1b" stroke-width="0.25" stroke-linejoin="round">80</text>
<text x="702.56" y="610.30" textLength="17.68" lengthAdjust="spacingAndGlyphs" font-size="16.0" font-weight="bold" fill="#1d1d1b" stroke="#1d1d1b" stroke-width="0.25" stroke-linejoin="round">90</text>
<text x="770.36" y="610.30" textLength="28.28" lengthAdjust="spacingAndGlyphs" font-size="16.0" font-weight="bold" fill="#1d1d1b" stroke="#1d1d1b" stroke-width="0.25" stroke-linejoin="round">100</text>
<text x="840.76" y="610.30" textLength="28.28" lengthAdjust="spacingAndGlyphs" font-size="16.0" font-weight="bold" fill="#1d1d1b" stroke="#1d1d1b" stroke-width="0.25" stroke-linejoin="round">110</text>
<text x="909.96" y="610.30" textLength="28.28" lengthAdjust="spacingAndGlyphs" font-size="16.0" font-weight="bold" fill="#1d1d1b" stroke="#1d1d1b" stroke-width="0.25" stroke-linejoin="round">120</text>
<text x="980.26" y="610.30" textLength="28.28" lengthAdjust="spacingAndGlyphs" font-size="16.0" font-weight="bold" fill="#1d1d1b" stroke="#1d1d1b" stroke-width="0.25" stroke-linejoin="round">130</text>
<text x="1048.96" y="610.30" textLength="28.28" lengthAdjust="spacingAndGlyphs" font-size="16.0" font-weight="bold" fill="#1d1d1b" stroke="#1d1d1b" stroke-width="0.25" stroke-linejoin="round">140</text>
<text x="1118.26" y="610.30" textLength="28.28" lengthAdjust="spacingAndGlyphs" font-size="16.0" font-weight="bold" fill="#1d1d1b" stroke="#1d1d1b" stroke-width="0.25" stroke-linejoin="round">150</text>
<text x="1189.86" y="610.30" textLength="28.28" lengthAdjust="spacingAndGlyphs" font-size="16.0" font-weight="bold" fill="#1d1d1b" stroke="#1d1d1b" stroke-width="0.25" stroke-linejoin="round">160</text>
<rect x="403.05" y="528" width="1.9" height="58" fill="#1e1e1e"/>
<circle cx="403.9" cy="585.9" r="5.9" fill="#111"/>
<use href="#jersey" transform="translate(404.3,475.2) scale(0.965,1)" fill="#f07f2c" stroke="#d06f20" stroke-width="1.1" stroke-linejoin="round"/>
<rect x="387.7" y="495.7" width="2.2" height="31" fill="#c4661a" opacity="0.7"/>
<rect x="418.7" y="495.7" width="2.2" height="31" fill="#c4661a" opacity="0.7"/>
<text x="390.29" y="511.80" textLength="28.72" lengthAdjust="spacingAndGlyphs" font-size="17.8" font-weight="bold" fill="#fdf6ee" stroke="#fdf6ee" stroke-width="0.45" stroke-linejoin="round">MV</text>
<rect x="642.45" y="434" width="1.9" height="152" fill="#1e1e1e"/>
<circle cx="643.0" cy="585.9" r="5.9" fill="#111"/>
<path d="M626.80,432.80 Q643.2,437.10 659.60,432.80" fill="none" stroke="#dcdef0" stroke-width="2.4"/>
<use href="#jersey" transform="translate(643.2,380.5) scale(1.0,1.0)" fill="#3b4198" stroke="#2f3684" stroke-width="0.9" stroke-linejoin="round"/>
<text x="628.51" y="409.80" textLength="28.58" lengthAdjust="spacingAndGlyphs" font-size="17.2" font-weight="bold" fill="#fff" stroke="#fff" stroke-width="0.4" stroke-linejoin="round">PM</text>
<text x="631.40" y="426.30" textLength="11.19" lengthAdjust="spacingAndGlyphs" font-size="17.4" font-weight="bold" fill="#fff" stroke="#fff" stroke-width="0.4" stroke-linejoin="round">3</text>
<text x="643.70" y="420.24" textLength="7.80" lengthAdjust="spacingAndGlyphs" font-size="12.527999999999999" font-weight="bold" fill="#fff" stroke="#fff" stroke-width="0.35" stroke-linejoin="round">a</text>
<rect x="644.20" y="421.44" width="6.80" height="1.7" fill="#fff"/>
<rect x="805.45" y="548" width="1.9" height="38" fill="#1e1e1e"/>
<circle cx="806.7" cy="585.9" r="5.9" fill="#111"/>
<use href="#jersey" transform="translate(806.4,494.9) scale(0.965,1)" fill="#f07f2c" stroke="#d06f20" stroke-width="1.1" stroke-linejoin="round"/>
<rect x="789.8" y="515.4" width="2.2" height="31" fill="#c4661a" opacity="0.7"/>
<rect x="820.8" y="515.4" width="2.2" height="31" fill="#c4661a" opacity="0.7"/>
<text x="792.39" y="531.50" textLength="28.72" lengthAdjust="spacingAndGlyphs" font-size="17.8" font-weight="bold" fill="#fdf6ee" stroke="#fdf6ee" stroke-width="0.45" stroke-linejoin="round">MV</text>
<rect x="876.15" y="417" width="1.9" height="169" fill="#1e1e1e"/>
<circle cx="876.8" cy="585.9" r="5.9" fill="#111"/>
<path d="M860.70,415.30 Q877.1,419.60 893.50,415.30" fill="none" stroke="#dcdef0" stroke-width="2.4"/>
<use href="#jersey" transform="translate(877.1,363.0) scale(1.0,1.0)" fill="#3b4198" stroke="#2f3684" stroke-width="0.9" stroke-linejoin="round"/>
<text x="862.51" y="392.50" textLength="28.48" lengthAdjust="spacingAndGlyphs" font-size="17.2" font-weight="bold" fill="#fff" stroke="#fff" stroke-width="0.4" stroke-linejoin="round">PM</text>
<text x="865.53" y="408.50" textLength="10.84" lengthAdjust="spacingAndGlyphs" font-size="16.8" font-weight="bold" fill="#fff" stroke="#fff" stroke-width="0.4" stroke-linejoin="round">3</text>
<text x="877.62" y="402.87" textLength="7.77" lengthAdjust="spacingAndGlyphs" font-size="12.096" font-weight="bold" fill="#fff" stroke="#fff" stroke-width="0.35" stroke-linejoin="round">a</text>
<rect x="878.10" y="404.07" width="6.80" height="1.7" fill="#fff"/>
<rect x="947.35" y="525" width="1.9" height="61" fill="#1e1e1e"/>
<circle cx="948.6" cy="585.9" r="5.9" fill="#111"/>
<use href="#jersey" transform="translate(948.7,473.3) scale(0.965,1)" fill="#f07f2c" stroke="#d06f20" stroke-width="1.1" stroke-linejoin="round"/>
<rect x="932.1" y="493.8" width="2.2" height="31" fill="#c4661a" opacity="0.7"/>
<rect x="963.1" y="493.8" width="2.2" height="31" fill="#c4661a" opacity="0.7"/>
<text x="934.69" y="509.90" textLength="28.72" lengthAdjust="spacingAndGlyphs" font-size="17.8" font-weight="bold" fill="#fdf6ee" stroke="#fdf6ee" stroke-width="0.45" stroke-linejoin="round">MV</text>
<rect x="1090.85" y="362" width="1.9" height="224" fill="#1e1e1e"/>
<circle cx="1092.2" cy="585.9" r="5.9" fill="#111"/>
<path d="M1075.54,362.02 Q1092.1,366.26 1108.66,362.02" fill="none" stroke="#dcdef0" stroke-width="2.4"/>
<use href="#jersey" transform="translate(1092.1,310.4) scale(1.01,0.987)" fill="#3b4198" stroke="#2f3684" stroke-width="0.9" stroke-linejoin="round"/>
<text x="1078.01" y="338.40" textLength="28.08" lengthAdjust="spacingAndGlyphs" font-size="17.2" font-weight="bold" fill="#fff" stroke="#fff" stroke-width="0.4" stroke-linejoin="round">PM</text>
<text x="1083.44" y="354.40" textLength="11.01" lengthAdjust="spacingAndGlyphs" font-size="16.4" font-weight="bold" fill="#fff" stroke="#fff" stroke-width="0.4" stroke-linejoin="round">2</text>
<text x="1094.33" y="349.06" textLength="7.24" lengthAdjust="spacingAndGlyphs" font-size="11.807999999999998" font-weight="bold" fill="#fff" stroke="#fff" stroke-width="0.35" stroke-linejoin="round">a</text>
<rect x="1094.80" y="350.26" width="6.30" height="1.7" fill="#fff"/>
<circle cx="1091.9" cy="394.2" r="17.1" fill="#151515"/>
<g transform="translate(1081.19,383.49)"><path d="M3.06,0H18.36V3.06H21.42V18.36H18.36V21.42H3.06V18.36H0V3.06H3.06Z" fill="url(#chk)"/></g>
<rect x="1219.00" y="289" width="2.0" height="41" fill="#1e1e1e"/>
<circle cx="1220.7" cy="288.9" r="17.1" fill="#151515"/>
<g transform="translate(1209.99,278.19)"><path d="M3.06,0H18.36V3.06H21.42V18.36H18.36V21.42H3.06V18.36H0V3.06H3.06Z" fill="url(#chk)"/></g>
<path d="M1203.27,376.15 Q1220,380.65 1236.73,376.15" fill="none" stroke="#dcdef0" stroke-width="2.4"/>
<use href="#jersey" transform="translate(1220,321.5) scale(1.02,1.045)" fill="#3b4198" stroke="#2f3684" stroke-width="0.9" stroke-linejoin="round"/>
<text x="1204.31" y="351.50" textLength="28.88" lengthAdjust="spacingAndGlyphs" font-size="17.2" font-weight="bold" fill="#fff" stroke="#fff" stroke-width="0.4" stroke-linejoin="round">PM</text>
<text x="1210.60" y="367.30" textLength="11.79" lengthAdjust="spacingAndGlyphs" font-size="17.4" font-weight="bold" fill="#fff" stroke="#fff" stroke-width="0.4" stroke-linejoin="round">2</text>
<text x="1222.00" y="361.24" textLength="7.70" lengthAdjust="spacingAndGlyphs" font-size="12.527999999999999" font-weight="bold" fill="#fff" stroke="#fff" stroke-width="0.35" stroke-linejoin="round">a</text>
<rect x="1222.50" y="362.44" width="6.70" height="1.7" fill="#fff"/>
<circle cx="82.1" cy="327.3" r="17.1" fill="#2b6a34"/>
<circle cx="82.1" cy="327.3" r="16.5" fill="none" stroke="#1f5629" stroke-width="1.2"/>
<path d="M77.7,317.6 L94.2,327.5 L77.7,337.6 Z" fill="#fbfffb"/>
<text x="54.00" y="281.00" textLength="56.71" lengthAdjust="spacingAndGlyphs" font-size="17.6" font-weight="bold" fill="#1d1d1b" stroke="#1d1d1b" stroke-width="0.4" stroke-linejoin="round">VIANA</text>
<text x="28.33" y="300.90" textLength="107.34" lengthAdjust="spacingAndGlyphs" font-size="16.8" font-weight="bold" fill="#1d1d1b" stroke="#1d1d1b" stroke-width="0.4" stroke-linejoin="round">DO CASTELO</text>
<text x="372.92" y="432.50" textLength="63.36" lengthAdjust="spacingAndGlyphs" font-size="17.0" font-weight="bold" fill="#1d1d1b" stroke="#1d1d1b" stroke-width="0.4" stroke-linejoin="round">45,2KM</text>
<text x="364.87" y="457.40" textLength="80.76" lengthAdjust="spacingAndGlyphs" font-size="15.8" font-weight="normal" fill="#1d1d1b" stroke="#1d1d1b" stroke-width="0.8" stroke-linejoin="round">VALENÇA</text>
<text x="620.04" y="349.00" textLength="47.53" lengthAdjust="spacingAndGlyphs" font-size="16.6" font-weight="bold" fill="#1d1d1b" stroke="#1d1d1b" stroke-width="0.4" stroke-linejoin="round">80KM</text>
<text x="602.97" y="373.10" textLength="82.36" lengthAdjust="spacingAndGlyphs" font-size="15.8" font-weight="normal" fill="#1d1d1b" stroke="#1d1d1b" stroke-width="0.8" stroke-linejoin="round">EXTREMO</text>
<text x="769.84" y="440.90" textLength="73.53" lengthAdjust="spacingAndGlyphs" font-size="16.6" font-weight="bold" fill="#1d1d1b" stroke="#1d1d1b" stroke-width="0.4" stroke-linejoin="round">102,3KM</text>
<text x="777.97" y="464.90" textLength="57.76" lengthAdjust="spacingAndGlyphs" font-size="15.8" font-weight="normal" fill="#1d1d1b" stroke="#1d1d1b" stroke-width="0.8" stroke-linejoin="round">PONTE</text>
<text x="763.37" y="481.80" textLength="88.06" lengthAdjust="spacingAndGlyphs" font-size="15.8" font-weight="normal" fill="#1d1d1b" stroke="#1d1d1b" stroke-width="0.8" stroke-linejoin="round">DA BARCA</text>
<text x="841.04" y="308.50" textLength="73.43" lengthAdjust="spacingAndGlyphs" font-size="16.6" font-weight="bold" fill="#1d1d1b" stroke="#1d1d1b" stroke-width="0.4" stroke-linejoin="round">113,1KM</text>
<text x="837.97" y="332.80" textLength="80.16" lengthAdjust="spacingAndGlyphs" font-size="15.8" font-weight="normal" fill="#1d1d1b" stroke="#1d1d1b" stroke-width="0.8" stroke-linejoin="round">PORTELA</text>
<text x="840.67" y="353.70" textLength="75.46" lengthAdjust="spacingAndGlyphs" font-size="15.8" font-weight="normal" fill="#1d1d1b" stroke="#1d1d1b" stroke-width="0.8" stroke-linejoin="round">DO VADE</text>
<text x="914.14" y="441.00" textLength="72.83" lengthAdjust="spacingAndGlyphs" font-size="16.6" font-weight="bold" fill="#1d1d1b" stroke="#1d1d1b" stroke-width="0.4" stroke-linejoin="round">123,6KM</text>
<text x="899.37" y="465.10" textLength="102.36" lengthAdjust="spacingAndGlyphs" font-size="15.8" font-weight="normal" fill="#1d1d1b" stroke="#1d1d1b" stroke-width="0.8" stroke-linejoin="round">VILA VERDE</text>
<text x="1055.64" y="256.00" textLength="73.23" lengthAdjust="spacingAndGlyphs" font-size="16.6" font-weight="bold" fill="#1d1d1b" stroke="#1d1d1b" stroke-width="0.4" stroke-linejoin="round">143,7KM</text>
<text x="1063.94" y="277.10" textLength="57.73" lengthAdjust="spacingAndGlyphs" font-size="16.6" font-weight="bold" fill="#1d1d1b" stroke="#1d1d1b" stroke-width="0.4" stroke-linejoin="round">BRAGA</text>
<text x="1030.42" y="299.00" textLength="124.06" lengthAdjust="spacingAndGlyphs" font-size="14.5" font-weight="bold" fill="#1d1d1b">1ª Passagem Meta</text>
<text x="1182.84" y="211.20" textLength="72.63" lengthAdjust="spacingAndGlyphs" font-size="16.6" font-weight="bold" fill="#1d1d1b" stroke="#1d1d1b" stroke-width="0.4" stroke-linejoin="round">162,3KM</text>
<text x="1189.94" y="233.00" textLength="59.73" lengthAdjust="spacingAndGlyphs" font-size="16.6" font-weight="bold" fill="#1d1d1b" stroke="#1d1d1b" stroke-width="0.4" stroke-linejoin="round">BRAGA</text>
<text x="1193.12" y="248.60" textLength="52.97" lengthAdjust="spacingAndGlyphs" font-size="12.1" font-weight="normal" fill="#1d1d1b" stroke="#1d1d1b" stroke-width="0.75" stroke-linejoin="round">Santuário</text>
<text x="1189.12" y="260.70" textLength="60.57" lengthAdjust="spacingAndGlyphs" font-size="12.1" font-weight="normal" fill="#1d1d1b" stroke="#1d1d1b" stroke-width="0.75" stroke-linejoin="round">do Sameiro</text>
</svg>
</body></html>
